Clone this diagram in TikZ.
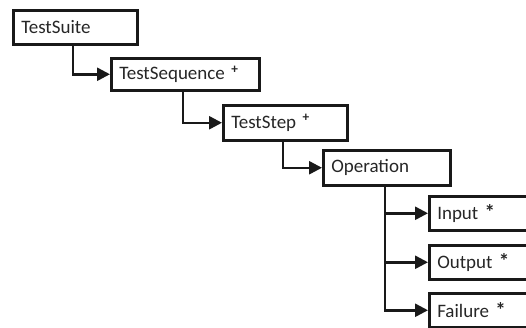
\documentclass[tikz,border=0pt]{standalone}
\usepackage{fontspec}
\setmainfont{Carlito}
\usetikzlibrary{arrows.meta}
\newcommand{\myast}{{\fontsize{21}{21}\selectfont\bfseries *}}
\begin{document}
\begin{tikzpicture}[x=1pt,y=-1pt,
  box/.style={draw=black!90, line width=2.5pt, anchor=north west, rectangle,
    inner xsep=8pt, inner ysep=0pt, align=left, minimum height=34pt,
    font=\fontsize{19}{21}\selectfont, text=black!85},
  conn/.style={draw=black!90, line width=2.5pt,
    -{Triangle[length=13pt,width=13pt]}}]
\useasboundingbox (0,0) rectangle (526,327);
\clip (0,0) rectangle (526,327);
\node[box, minimum width=124pt, text width=108pt] (suite) at (12,9) {TestSuite};
\node[box, minimum width=148pt, text width=132pt, minimum height=32pt] (seq) at (110,57) {TestSequence\,\,\textsuperscript{\bfseries +}};
\node[box, minimum width=124pt, text width=108pt, minimum height=35pt] (step) at (222,104) {TestStep\,\,\textsuperscript{\bfseries +}};
\node[box, minimum width=127pt, text width=111pt, minimum height=35pt] (op) at (322,149) {Operation};
\node[box, minimum width=120pt, text width=104pt] (in) at (428,195) {Input \myast};
\node[box, minimum width=120pt, text width=104pt] (out) at (428,244) {Output \myast};
\node[box, minimum width=120pt, text width=104pt] (fail) at (428,292) {Failure \myast};
\coordinate (a) at (73,0);
\coordinate (b) at (183,0);
\coordinate (c) at (283,0);
\coordinate (d) at (385,0);
\draw[conn] (suite.south -| a) |- (seq.west);
\draw[conn] (seq.south -| b) |- (step.west);
\draw[conn] (step.south -| c) |- (op.west);
\draw[conn] (op.south -| d) |- (in.west);
\draw[conn] (op.south -| d) |- (out.west);
\draw[conn] (op.south -| d) |- (fail.west);
\end{tikzpicture}
\end{document}
